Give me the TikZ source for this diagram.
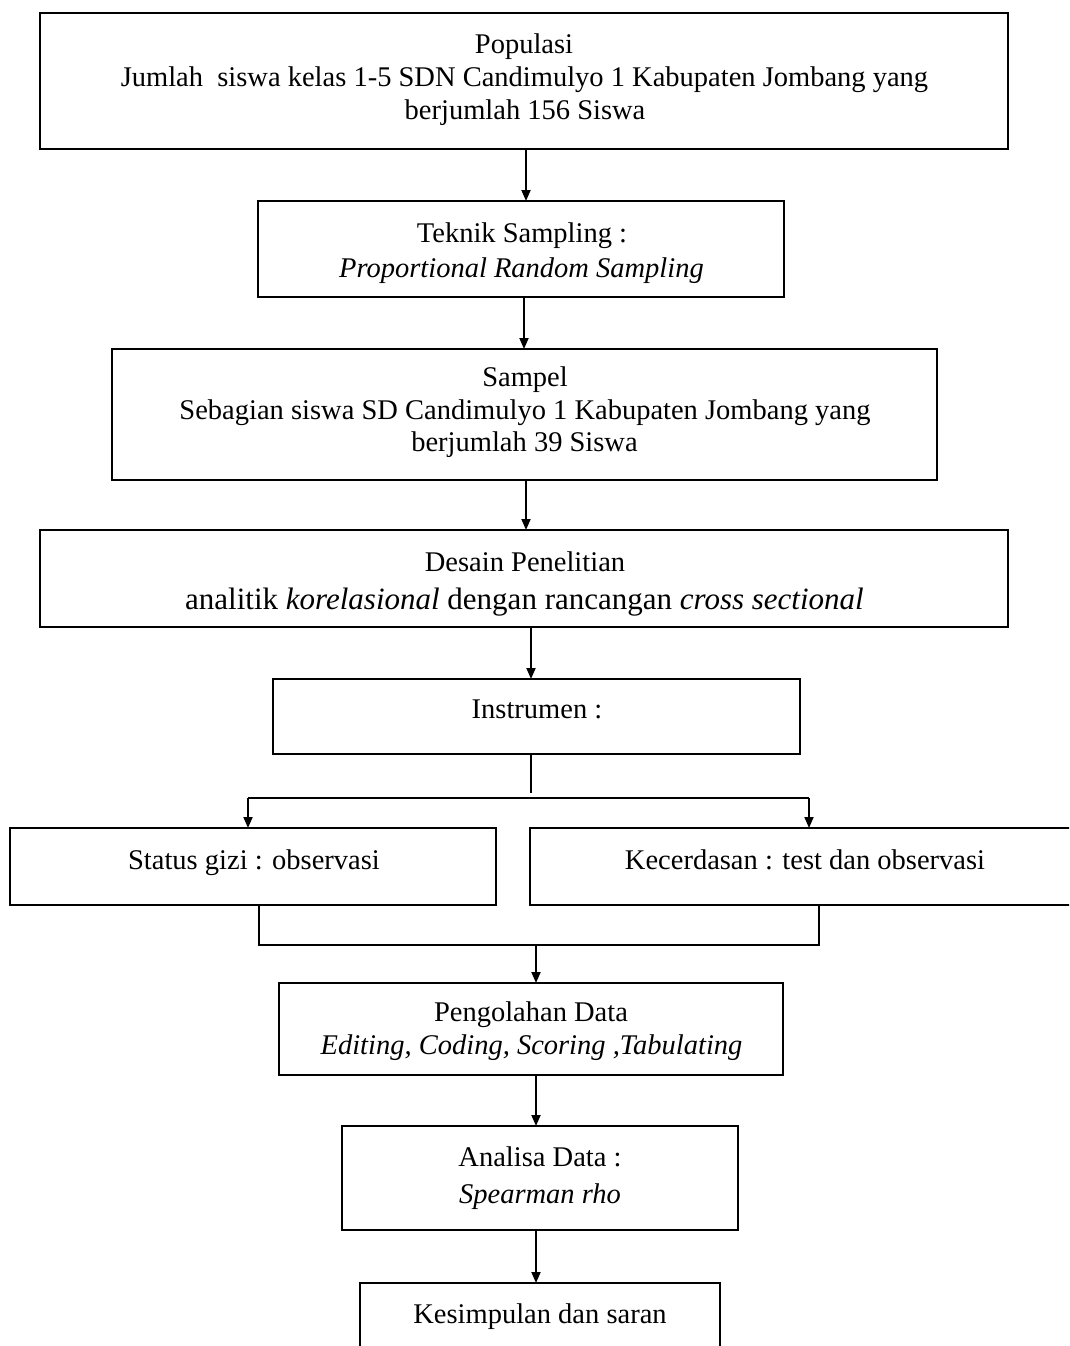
\documentclass[tikz,border=0pt]{standalone}
\usepackage{fontspec}
\setmainfont{Liberation Serif}
\usetikzlibrary{arrows.meta}
\begin{document}
\begin{tikzpicture}[x=1pt,y=-1pt,
  boxnode/.style={draw,line width=1.8pt,inner sep=0pt,outer sep=0pt},
  txt/.style={anchor=base,inner sep=0pt,font=\fontsize{28.5}{33}\selectfont},
  bigtxt/.style={txt,font=\fontsize{31}{36}\selectfont},
  arr/.style={line width=1.8pt,-{Triangle[length=11pt,width=9pt]}},
  ln/.style={line width=1.8pt}]
\useasboundingbox (0,0) rectangle (1069,1346);
\fill[white] (0,0) rectangle (1069,1346);
\clip (0,0) rectangle (1069,1346);
% boxes: center = ((x1+x2)/2,(y1+y2)/2)
\node[boxnode,minimum width=968pt,minimum height=136pt] (pop) at (524,81) {};
\node[boxnode,minimum width=526pt,minimum height=96pt] (tek) at (521,249) {};
\node[boxnode,minimum width=825pt,minimum height=131pt] (sam) at (524.5,414.5) {};
\node[boxnode,minimum width=968pt,minimum height=97pt] (des) at (524,578.5) {};
\node[boxnode,minimum width=527pt,minimum height=75pt] (ins) at (536.5,716.5) {};
\node[boxnode,minimum width=486pt,minimum height=77pt] (sta) at (253,866.5) {};
\node[boxnode,minimum width=560pt,minimum height=77pt] (kec) at (810,866.5) {};
\node[boxnode,minimum width=504pt,minimum height=92pt] (peng) at (531,1029) {};
\node[boxnode,minimum width=396pt,minimum height=104pt] (ana) at (540,1178) {};
\node[boxnode,minimum width=360pt,minimum height=120pt] (kes) at (540,1343) {};
% texts
\node[txt] (pop1) at (524,53) {Populasi};
\node[txt] (pop2) at (524.5,86) {Jumlah\ \ siswa kelas 1-5 SDN Candimulyo 1 Kabupaten Jombang yang};
\node[txt] (pop3) at (525,119) {berjumlah 156 Siswa};
\node[txt] (tek1) at (522,242) {Teknik Sampling :};
\node[txt] (tek2) at (521.5,277) {\itshape Proportional Random Sampling};
\node[txt] (sam1) at (525,386) {Sampel};
\node[txt] (sam2) at (525,419) {Sebagian siswa SD Candimulyo 1 Kabupaten Jombang yang};
\node[txt] (sam3) at (524.5,451) {berjumlah 39 Siswa};
\node[txt] (des1) at (525,571) {Desain Penelitian};
\node[bigtxt] (des2) at (524.5,609) {analitik \textit{korelasional} dengan rancangan \textit{cross sectional}};
\node[txt] (ins1) at (537,718) {Instrumen :};
\node[txt] (sta1) at (254,869) {Status gizi : observasi};
\node[txt] (kec1) at (805,869) {Kecerdasan : test dan observasi};
\node[txt] (peng1) at (531,1021) {Pengolahan Data};
\node[txt] (peng2) at (531.5,1054) {\itshape Editing, Coding, Scoring ,Tabulating};
\node[txt] (ana1) at (540,1166) {Analisa Data :};
\node[txt] (ana2) at (540,1203) {\itshape Spearman rho};
\node[txt] (kes1) at (540,1323) {Kesimpulan dan saran};
% connector x positions
\coordinate (xa) at (526,0);
\coordinate (xb) at (524,0);
\coordinate (xc) at (531,0);
\coordinate (xl) at (248,0);
\coordinate (xr) at (809,0);
\coordinate (xml) at (259,0);
\coordinate (xmr) at (819,0);
\coordinate (xm) at (536,0);
\coordinate (split) at (531,798);
\coordinate (splitend) at (531,793);
\coordinate (merge) at (536,945);
% connectors
\draw[arr] (pop.south -| xa) -- (tek.north -| xa);
\draw[arr] (tek.south -| xb) -- (sam.north -| xb);
\draw[arr] (sam.south -| xa) -- (des.north -| xa);
\draw[arr] (des.south -| xc) -- (ins.north -| xc);
\draw[ln] (ins.south -| xc) -- (splitend);
\draw[ln] (split -| xl) -- (split -| xr);
\draw[arr] (split -| xl) -- (sta.north -| xl);
\draw[arr] (split -| xr) -- (kec.north -| xr);
\draw[ln] (sta.south -| xml) -- (merge -| xml) -- (merge -| xmr) -- (kec.south -| xmr);
\draw[arr] (merge) -- (peng.north -| xm);
\draw[arr] (peng.south -| xm) -- (ana.north -| xm);
\draw[arr] (ana.south -| xm) -- (kes.north -| xm);
\end{tikzpicture}
\end{document}
